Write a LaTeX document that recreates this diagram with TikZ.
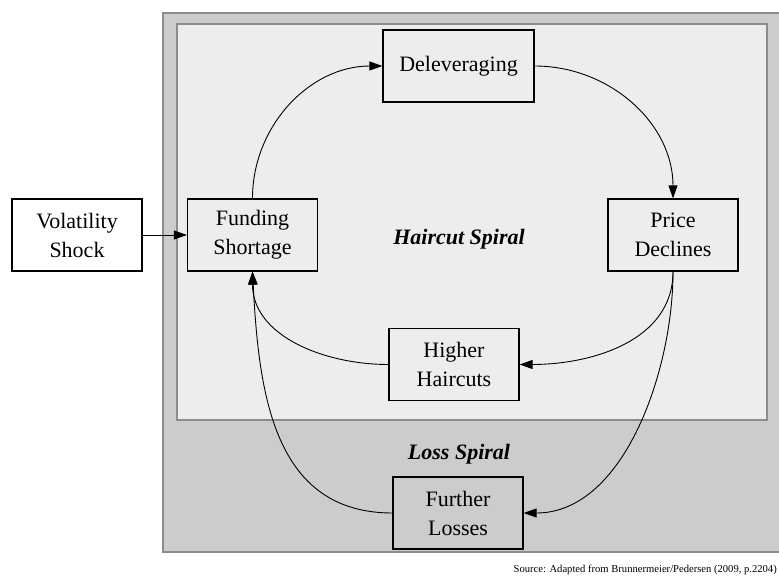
\documentclass[tikz,border=0pt]{standalone}
\usepackage{fontspec}
\setmainfont{Liberation Serif}
\usetikzlibrary{arrows.meta}
\definecolor{outerbg}{HTML}{CCCCCC}
\definecolor{innerbg}{HTML}{EDEDED}
\definecolor{frame}{HTML}{8C8C8C}
\tikzset{
  box/.style={draw=black, line width=1.2pt, minimum width=130pt, minimum height=72pt,
    inner sep=0pt, align=center, font=\fontsize{22}{29}\selectfont},
  conn/.style={line width=0.9pt, -{Triangle[length=13pt,width=9pt]}},
  spiral/.style={font=\fontsize{22}{24}\selectfont\bfseries\itshape}
}
\begin{document}
\begin{tikzpicture}[x=1pt,y=-1pt]
\useasboundingbox (0,0) rectangle (779,578);
\clip (0,0) rectangle (779,578);
\fill[white] (0,0) rectangle (779,578);
\draw[frame, fill=outerbg, line width=1.5pt] (163,13) rectangle (782,552);
\draw[frame, fill=innerbg, line width=1.5pt] (177,24) rectangle (767,420);

\node[box, fill=white] (vs) at (77,235) {Volatility\\Shock};
\node[box] (fs) at (252.5,235) {Funding\\Shortage};
\node[box, minimum width=151pt] (dl) at (458.5,66) {Deleveraging};
\node[box] (pd) at (673,235) {Price\\Declines};
\node[box] (hh) at (454,364.5) {Higher\\Haircuts};
\node[box] (fl) at (458,513) {Further\\Losses};

\node[spiral] (hs) at (459,239) {Haircut Spiral};
\node[spiral] (ls) at (459,454) {Loss Spiral};

\draw[conn] (vs.east) -- (fs.west);
\draw[conn] (fs.north) to[out=90,in=180] (dl.west);
\draw[conn] (dl.east) to[out=0,in=90] (pd.north);
\draw[conn] (pd.south) to[out=-90,in=0] (hh.east);
\draw[conn] (hh.west) to[out=180,in=-90] (fs.south);
\draw[conn] (pd.south) to[out=-90,in=0,looseness=0.9] (fl.east);
\draw[conn] (fl.west) to[out=180,in=-87,looseness=1.1] (fs.south);

\node[anchor=base east, inner sep=0pt, font=\fontsize{10.6}{12}\selectfont] (src) at (777,572) {Source: Adapted from Brunnermeier/Pedersen (2009, p.2204)};
\end{tikzpicture}
\end{document}
